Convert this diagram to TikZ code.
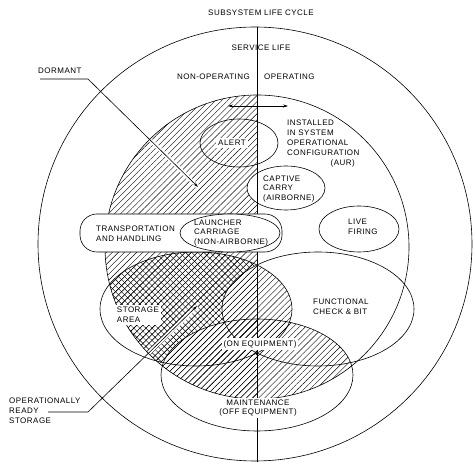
\documentclass[tikz,border=0pt]{standalone}
\usepackage{fontspec}
\setmainfont[LetterSpace=6]{Liberation Sans}
\usetikzlibrary{patterns.meta,arrows.meta}
\begin{document}
\begin{tikzpicture}[x=1pt,y=-1pt,
  lbl/.style={font=\fontsize{8}{9.9}\selectfont, inner sep=0pt, align=left},
  wlbl/.style={lbl, fill=white, inner sep=1.8pt},
  outl/.style={line width=0.6pt},
  hatchA/.style={pattern={Lines[angle=45,distance=4.3pt,line width=0.4pt]}},
  hatchB/.style={pattern={Lines[angle=-45,distance=4.3pt,line width=0.4pt]}},
  leader/.style={line width=0.6pt},
  leaderbg/.style={white, line width=4pt},
  tip/.style={-{Stealth[length=5pt,width=3pt]}}]
\useasboundingbox (0,0) rectangle (475,462);

% ---------- shape definitions ----------
\def\innerC{(257,247) circle (152)}
\def\storE{(196,309) ellipse [x radius=96, y radius=57]}
\def\funcE{(318,309) ellipse [x radius=96, y radius=57]}
\def\mainE{(257,375) ellipse [x radius=96, y radius=56]}

% ---------- cross hatch (operationally ready storage) ----------
\begin{scope}
  \clip \innerC;
  \clip \storE;
  \fill[hatchB] (90,240) rectangle (300,380);
  \fill[white] \funcE;
  \fill[white] \mainE;
\end{scope}
% ---------- single hatch (dormant / non-operating) ----------
\begin{scope}
  \clip \innerC;
  \fill[hatchA] (100,90) rectangle (257,410);
  \fill[hatchA] \storE;
  \fill[hatchA] \mainE;
\end{scope}

% ---------- white backgrounds ----------
\fill[white] (286,188) ellipse [x radius=39, y radius=22];
\coordinate (dA) at (40,79);
\coordinate (dB) at (88,79);
\coordinate (dC) at (198,187);
\coordinate (oA) at (48,412);
\coordinate (oB) at (88,412);
\coordinate (oC) at (197,306);
\draw[leaderbg] (dB) -- (dC);
\draw[leaderbg] (oB) -- (oC);

% ---------- outlines ----------
\draw[outl] (255,244) circle (217);
\draw[outl] \innerC;
\draw[outl] \storE;
\draw[outl] \funcE;
\draw[outl] \mainE;
\draw[outl] (239,143) ellipse [x radius=39, y radius=24];
\draw[outl] (286,188) ellipse [x radius=39, y radius=22];
\draw[outl] (359,229) ellipse [x radius=40, y radius=23];

% ---------- vertical centre line ----------
\coordinate (vtop) at (257,27);
\coordinate (vbot) at (257,462);
\draw[outl] (vtop) -- (vbot);
\fill (257,354) circle (1.3);

% ---------- transportation box and launcher ----------
\draw[outl, fill=white, rounded corners=17pt] (80,214) rectangle (282,252);
\draw[outl, fill=white] (230,233) ellipse [x radius=50, y radius=19];

% ---------- texts ----------
\node[lbl] (title) at (261,13) {SUBSYSTEM LIFE CYCLE};
\node[lbl] (service) at (261,48) {SERVICE LIFE};
\node[lbl, anchor=east] (nonop) at (250,77) {NON-OPERATING};
\node[lbl, anchor=west] (oper) at (264,77) {OPERATING};
\node[lbl, anchor=west] (installed) at (287,138) {INSTALLED\\IN SYSTEM\\OPERATIONAL\\CONFIGURATION};
\node[lbl, anchor=east] (aur) at (355,163) {(AUR)};
\node[wlbl] (alert) at (232,143) {ALERT};
\node[lbl, anchor=west] (captive) at (263,189) {CAPTIVE\\CARRY\\(AIRBORNE)};
\node[lbl, anchor=west] (transport) at (96,234) {TRANSPORTATION\\AND HANDLING};
\node[lbl, anchor=west] (launcher) at (194,233) {LAUNCHER\\CARRIAGE\\(NON-AIRBORNE)};
\node[lbl, anchor=west] (live) at (348,227) {LIVE\\FIRING};
\node[wlbl, anchor=west] (storage) at (115,315) {STORAGE\\AREA};
\node[lbl, anchor=west] (functional) at (313,307) {FUNCTIONAL\\CHECK \& BIT};
\node[wlbl] (onequip) at (260,344) {(ON EQUIPMENT)};
\node[wlbl, align=center] (maint) at (258,408) {MAINTENANCE\\(OFF EQUIPMENT)};
\node[lbl, anchor=west] (dormant) at (38,71) {DORMANT};
\node[lbl, anchor=west] (ors) at (9,411) {OPERATIONALLY\\READY\\STORAGE};

% ---------- arrows and leaders ----------
\coordinate (arL) at (228,106);
\coordinate (arR) at (288,106);
\draw[leader, {Stealth[length=5pt,width=3pt]}-{Stealth[length=5pt,width=3pt]}] (arL) -- (arR);
\draw[leader, tip] (dA) -- (dB) -- (dC);
\draw[leader, tip] (oA) -- (oB) -- (oC);
\end{tikzpicture}
\end{document}
